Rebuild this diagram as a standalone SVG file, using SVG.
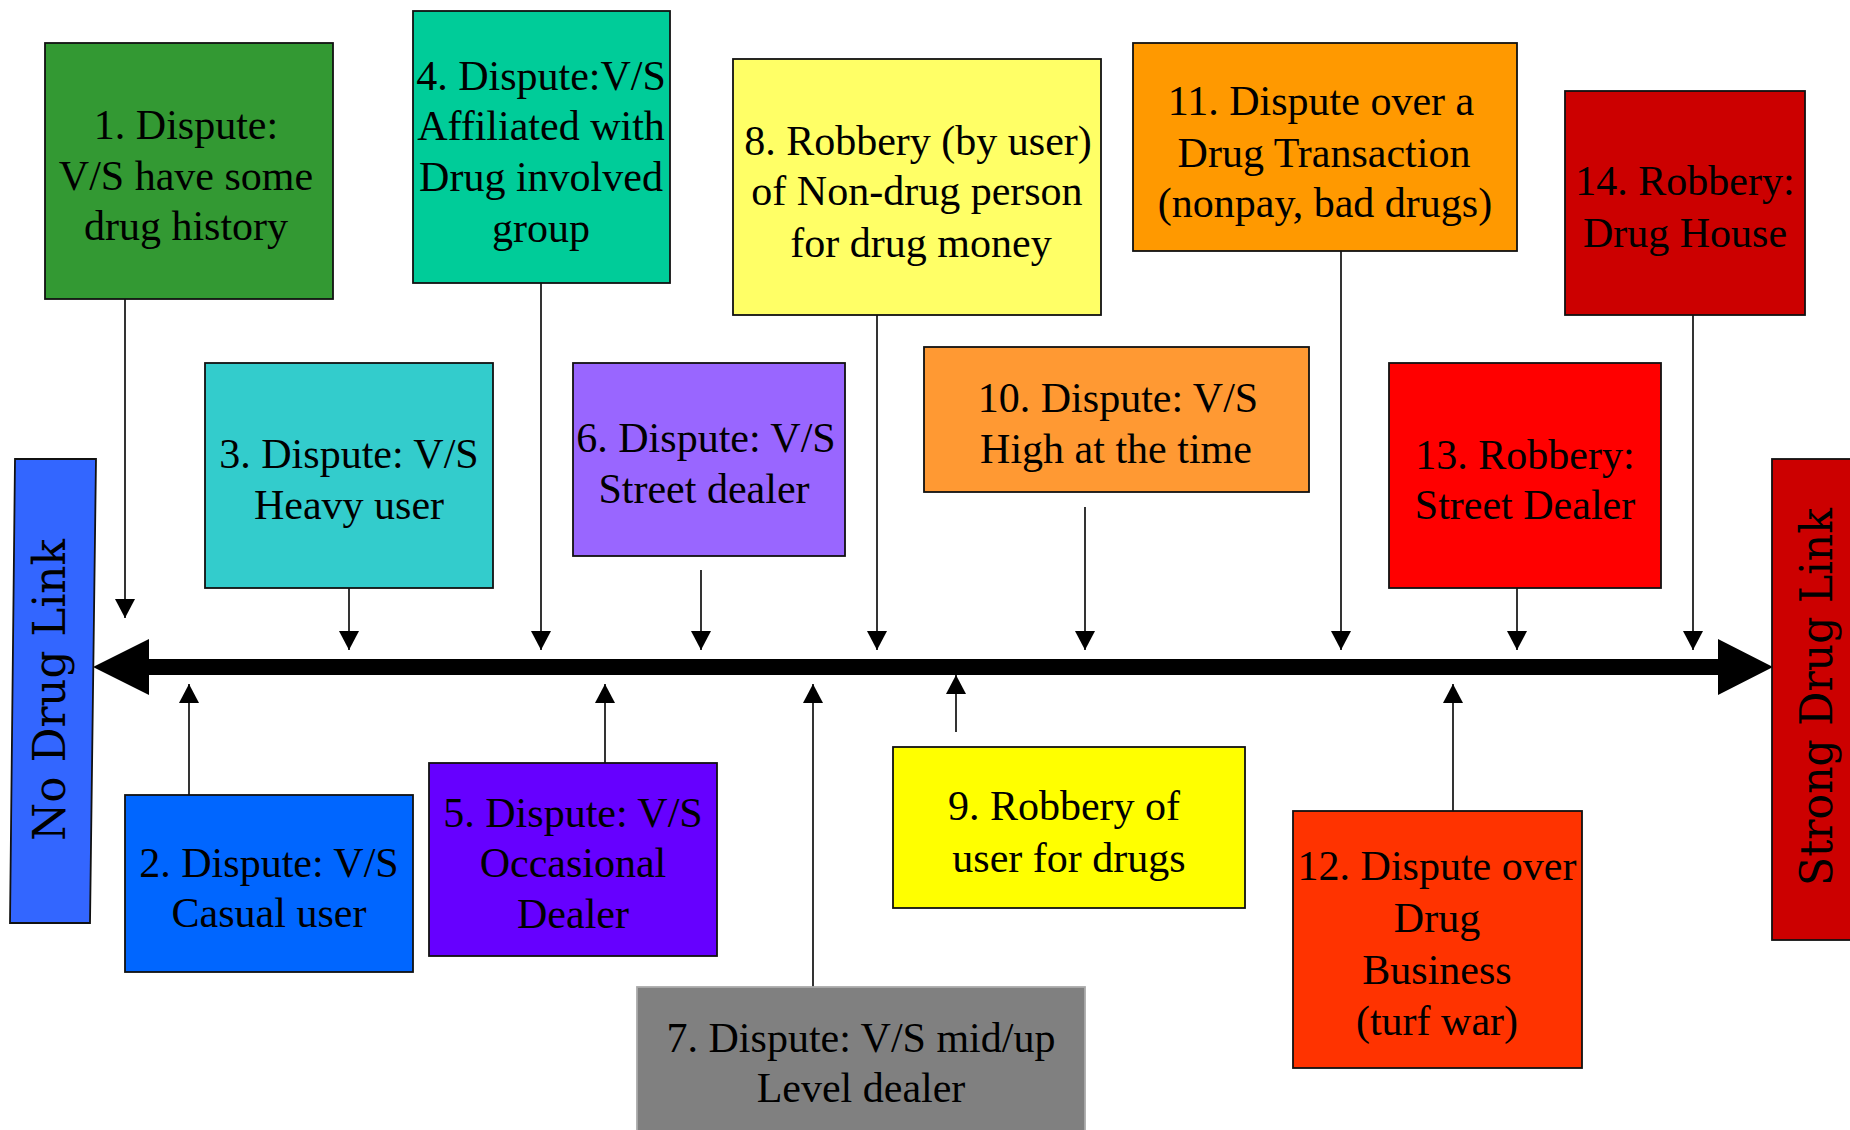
<svg xmlns="http://www.w3.org/2000/svg" width="1850" height="1130" viewBox="0 0 1850 1130">
<style>
.box{stroke:#111;stroke-width:1.8}
.t{font-family:"Liberation Serif","Times New Roman",serif;font-size:42px;fill:#000;text-anchor:middle}
.v{font-family:"DejaVu Serif","Liberation Serif",serif;font-size:44px;fill:#000;text-anchor:middle}
.c{stroke:#000;stroke-width:1.6;fill:none;marker-end:url(#ah)}
</style>
<defs>
<marker id="ah" markerUnits="userSpaceOnUse" markerWidth="19" markerHeight="20" viewBox="0 0 19 20" refX="19" refY="10" orient="auto">
<path d="M0,0 L19,10 L0,20 Z" fill="#000"/>
</marker>
</defs>
<rect width="1850" height="1130" fill="#fff"/>

<g id="connectors">
<path d="M93,667 L149,639 L149,659 L1718,659 L1718,639 L1773,667 L1718,695 L1718,675 L149,675 L149,695 Z" fill="#000"/>
<line class="c" x1="125" y1="299" x2="125" y2="618"/>
<line class="c" x1="349" y1="588" x2="349" y2="650"/>
<line class="c" x1="541" y1="283" x2="541" y2="650"/>
<line class="c" x1="701" y1="570" x2="701" y2="650"/>
<line class="c" x1="877" y1="315" x2="877" y2="650"/>
<line class="c" x1="1085" y1="507" x2="1085" y2="650"/>
<line class="c" x1="1341" y1="251" x2="1341" y2="650"/>
<line class="c" x1="1517" y1="588" x2="1517" y2="650"/>
<line class="c" x1="1693" y1="315" x2="1693" y2="650"/>
<line class="c" x1="189" y1="795" x2="189" y2="684"/>
<line class="c" x1="605" y1="763" x2="605" y2="684"/>
<line class="c" x1="813" y1="987" x2="813" y2="684"/>
<line class="c" x1="956" y1="732" x2="956" y2="675"/>
<line class="c" x1="1453" y1="811" x2="1453" y2="684"/>
</g>

<g id="no-drug-link">
<polygon class="box" points="15,459 96,459 90,923 10,923" fill="#3366FF"/>
<text class="v" transform="translate(65,690) rotate(-90)" textLength="302" lengthAdjust="spacingAndGlyphs">No Drug Link</text>
</g>
<g id="strong-drug-link">
<rect class="box" x="1772" y="459" width="90" height="481" fill="#CC0000"/>
<text class="v" transform="translate(1832,697) rotate(-90)" textLength="378" lengthAdjust="spacingAndGlyphs">Strong Drug Link</text>
</g>

<g id="n1">
<rect class="box" x="45" y="43" width="288" height="256" fill="#339933"/>
<text class="t" x="186" y="139">1. Dispute:</text>
<text class="t" x="186" y="190">V/S have some</text>
<text class="t" x="186" y="240">drug history</text>
</g>
<g id="n2">
<rect class="box" x="125" y="795" width="288" height="177" fill="#0066FF"/>
<text class="t" x="269" y="877">2. Dispute: V/S</text>
<text class="t" x="269" y="927">Casual user</text>
</g>
<g id="n3">
<rect class="box" x="205" y="363" width="288" height="225" fill="#33CCCC"/>
<text class="t" x="349" y="468">3. Dispute: V/S</text>
<text class="t" x="349" y="519">Heavy user</text>
</g>
<g id="n4">
<rect class="box" x="413" y="11" width="257" height="272" fill="#00CC99"/>
<text class="t" x="541" y="90">4. Dispute:V/S</text>
<text class="t" x="541" y="140">Affiliated with</text>
<text class="t" x="541" y="191">Drug involved</text>
<text class="t" x="541" y="242">group</text>
</g>
<g id="n5">
<rect class="box" x="429" y="763" width="288" height="193" fill="#6600FF"/>
<text class="t" x="573" y="827">5. Dispute: V/S</text>
<text class="t" x="573" y="877">Occasional</text>
<text class="t" x="573" y="928">Dealer</text>
</g>
<g id="n6">
<rect class="box" x="573" y="363" width="272" height="193" fill="#9966FF"/>
<text class="t" x="706" y="452">6. Dispute: V/S</text>
<text class="t" x="704" y="503">Street dealer</text>
</g>
<g id="n7">
<rect x="637" y="987" width="448" height="150" fill="#808080" stroke="#aaa" stroke-width="1.8"/>
<text class="t" x="861" y="1052">7. Dispute: V/S mid/up</text>
<text class="t" x="861" y="1102">Level dealer</text>
</g>
<g id="n8">
<rect class="box" x="733" y="59" width="368" height="256" fill="#FFFF66"/>
<text class="t" x="918" y="155">8. Robbery (by user)</text>
<text class="t" x="917" y="205">of Non-drug person</text>
<text class="t" x="921" y="257">for drug money</text>
</g>
<g id="n9">
<rect class="box" x="893" y="747" width="352" height="161" fill="#FFFF00"/>
<text class="t" x="1064" y="820">9. Robbery of</text>
<text class="t" x="1069" y="872">user for drugs</text>
</g>
<g id="n10">
<rect class="box" x="924" y="347" width="385" height="145" fill="#FF9933"/>
<text class="t" x="1118" y="412">10. Dispute: V/S</text>
<text class="t" x="1116" y="463">High at the time</text>
</g>
<g id="n11">
<rect class="box" x="1133" y="43" width="384" height="208" fill="#FF9900"/>
<text class="t" x="1321" y="115">11. Dispute over a</text>
<text class="t" x="1324" y="167">Drug Transaction</text>
<text class="t" x="1325" y="217">(nonpay, bad drugs)</text>
</g>
<g id="n12">
<rect class="box" x="1293" y="811" width="289" height="257" fill="#FF3300"/>
<text class="t" x="1437" y="880">12. Dispute over</text>
<text class="t" x="1437" y="932">Drug</text>
<text class="t" x="1437" y="984">Business</text>
<text class="t" x="1437" y="1035">(turf war)</text>
</g>
<g id="n13">
<rect class="box" x="1389" y="363" width="272" height="225" fill="#FF0000"/>
<text class="t" x="1525" y="469">13. Robbery:</text>
<text class="t" x="1525" y="519">Street Dealer</text>
</g>
<g id="n14">
<rect class="box" x="1565" y="91" width="240" height="224" fill="#CC0000"/>
<text class="t" x="1685" y="195">14. Robbery:</text>
<text class="t" x="1685" y="247">Drug House</text>
</g>
</svg>
